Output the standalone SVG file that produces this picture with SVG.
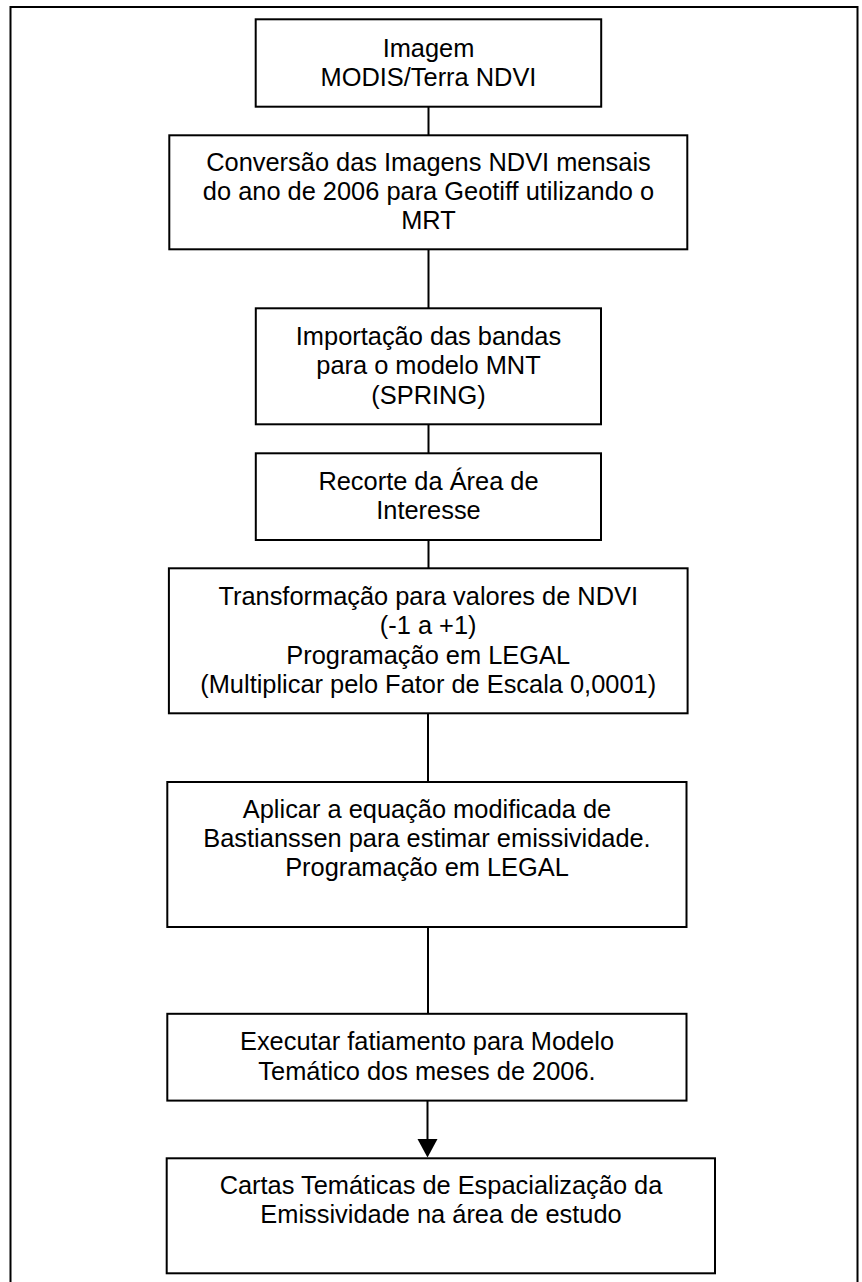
<svg xmlns="http://www.w3.org/2000/svg" width="862" height="1282" viewBox="0 0 862 1282">
<style>
.box{fill:#fff;stroke:#000;stroke-width:2}
.frame{fill:#fff;stroke:#000;stroke-width:2}
.t{font-family:"Liberation Sans",Arial,sans-serif;font-size:25.4px;fill:#000;text-anchor:middle}
.c{stroke:#000;stroke-width:2;fill:none}
</style>
<rect class="frame" x="10.5" y="7" width="847" height="1295"/>
<g id="connectors">
<line class="c" x1="428.5" y1="106.7" x2="428.5" y2="135.3"/>
<line class="c" x1="428.5" y1="249.3" x2="428.5" y2="308.3"/>
<line class="c" x1="428.5" y1="424.3" x2="428.5" y2="453.3"/>
<line class="c" x1="428.5" y1="540" x2="428.5" y2="568.3"/>
<line class="c" x1="428" y1="713.3" x2="428" y2="782"/>
<line class="c" x1="428" y1="927" x2="428" y2="1013.8"/>
<line class="c" x1="427.5" y1="1100.6" x2="427.5" y2="1140"/>
<polygon points="417.5,1139 437.5,1139 427.5,1157.5" fill="#000"/>
</g>
<g id="n1">
<rect class="box" x="255.7" y="19.3" width="345.5" height="87.4"/>
<text class="t" x="428.5" y="56.7">Imagem</text>
<text class="t" x="428.5" y="86">MODIS/Terra NDVI</text>
</g>
<g id="n2">
<rect class="box" x="169.3" y="135.3" width="518" height="114"/>
<text class="t" x="428.5" y="170.5">Conversão das Imagens NDVI mensais</text>
<text class="t" x="428.5" y="199.8">do ano de 2006 para Geotiff utilizando o</text>
<text class="t" x="428.5" y="229.1">MRT</text>
</g>
<g id="n3">
<rect class="box" x="255.8" y="308.3" width="345.2" height="116"/>
<text class="t" x="428.5" y="345">Importação das bandas</text>
<text class="t" x="428.5" y="374.3">para o modelo MNT</text>
<text class="t" x="428.5" y="403.6">(SPRING)</text>
</g>
<g id="n4">
<rect class="box" x="255.8" y="453.3" width="345.2" height="86.7"/>
<text class="t" x="428.5" y="490">Recorte da Área de</text>
<text class="t" x="428.5" y="519.3">Interesse</text>
</g>
<g id="n5">
<rect class="box" x="168.9" y="568.3" width="518.7" height="145"/>
<text class="t" x="428.2" y="605">Transformação para valores de NDVI</text>
<text class="t" x="428.2" y="634.3">(-1 a +1)</text>
<text class="t" x="428.2" y="663.6">Programação em LEGAL</text>
<text class="t" x="428.2" y="692.9">(Multiplicar pelo Fator de Escala 0,0001)</text>
</g>
<g id="n6">
<rect class="box" x="167.3" y="782" width="519.2" height="145"/>
<text class="t" x="427" y="817.5">Aplicar a equação modificada de</text>
<text class="t" x="427" y="846.8">Bastianssen para estimar emissividade.</text>
<text class="t" x="427" y="876.1">Programação em LEGAL</text>
</g>
<g id="n7">
<rect class="box" x="167.3" y="1013.8" width="519.2" height="86.8"/>
<text class="t" x="427" y="1050.4">Executar fatiamento para Modelo</text>
<text class="t" x="427" y="1079.7">Temático dos meses de 2006.</text>
</g>
<g id="n8">
<rect class="box" x="166.7" y="1158.3" width="548.3" height="115"/>
<text class="t" x="441" y="1194">Cartas Temáticas de Espacialização da</text>
<text class="t" x="441" y="1223.3">Emissividade na área de estudo</text>
</g>
</svg>
